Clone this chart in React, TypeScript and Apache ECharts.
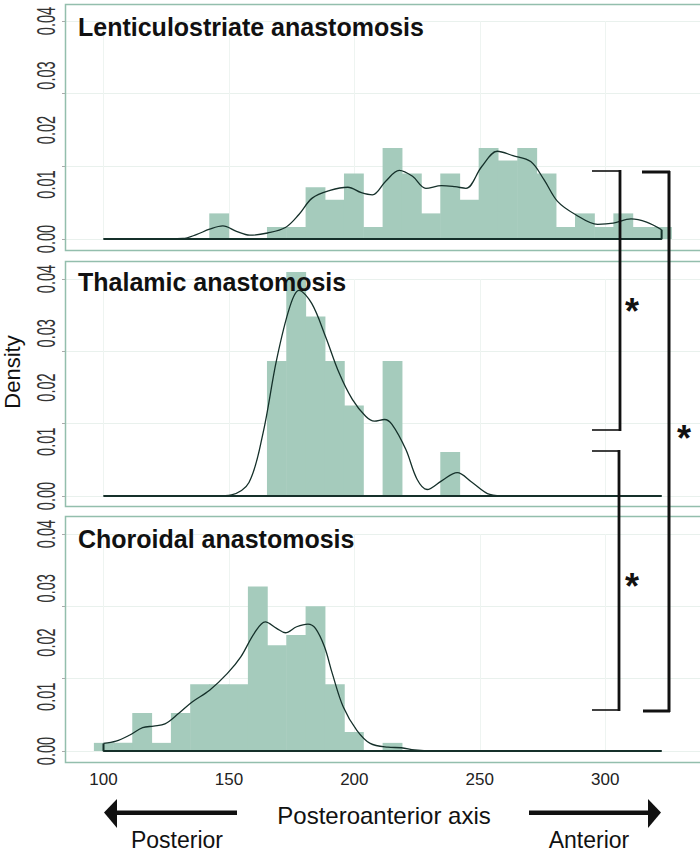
import React, { useEffect, useRef } from "react";
import * as echarts from "echarts";

// Histogram bins (centres) and width, in posteroanterior axis units
const binCenters = [100, 107.7, 115.3, 123.0, 130.7, 138.4, 146.0, 153.7, 161.4, 169.0, 176.7, 184.4, 192.1, 199.7, 207.4, 215.1, 222.8, 230.4, 238.1, 245.8, 253.4, 261.1, 268.8, 276.5, 284.1, 291.8, 299.5, 307.1, 314.8, 322.5];
const binWidth = 7.67;

const lentBars = [0, 0, 0, 0, 0, 0, 0.0047, 0, 0, 0.0022, 0.0022, 0.0095, 0.0072, 0.012, 0.0022, 0.0167, 0.012, 0.0047, 0.012, 0.0072, 0.0167, 0.0144, 0.0167, 0.012, 0.0022, 0.0047, 0.0022, 0.0047, 0.0022, 0.0022];
const thalBars = [0, 0, 0, 0, 0, 0, 0, 0, 0, 0.0249, 0.0413, 0.0331, 0.0249, 0.0167, 0, 0.0249, 0, 0, 0.0081, 0, 0, 0, 0, 0, 0, 0, 0, 0, 0, 0];
const chorBars = [0.0015, 0.0015, 0.007, 0.0015, 0.007, 0.0123, 0.0123, 0.0123, 0.0303, 0.0195, 0.0214, 0.0267, 0.0123, 0.0035, 0, 0.0015, 0, 0, 0, 0, 0, 0, 0, 0, 0, 0, 0, 0, 0, 0];

// Density curves
const lentCurveX = [100, 120, 131.6, 137, 142.3, 147.6, 153, 158.3, 165.4, 172.5, 177.9, 183.2, 190.3, 197.4, 202.8, 207.2, 212.5, 217.9, 223.2, 228.5, 234.8, 240.1, 244.5, 250.8, 257, 263.2, 270.3, 275.6, 281, 288.1, 297, 303.2, 310.3, 316.5, 322.5];
const lentCurveY = [0, 0, 0.0001, 0.0008, 0.0018, 0.0024, 0.0014, 0.0007, 0.0011, 0.0021, 0.0045, 0.0075, 0.0089, 0.0095, 0.0085, 0.0081, 0.0106, 0.0126, 0.0115, 0.0093, 0.0098, 0.0096, 0.0093, 0.0133, 0.0161, 0.0153, 0.0142, 0.0109, 0.0069, 0.0045, 0.0027, 0.0029, 0.0037, 0.0031, 0.0017];
const thalCurveX = [100, 130, 145, 151, 158, 163.6, 169, 174.3, 177.9, 183, 188.5, 193.9, 199.2, 204.5, 208, 212, 215, 220.5, 225, 229, 234.8, 241, 247, 254, 261, 280, 322.5];
const thalCurveY = [0, 0, 0, 0.0002, 0.0025, 0.0116, 0.0251, 0.0349, 0.0379, 0.0355, 0.0294, 0.0227, 0.0178, 0.0147, 0.0138, 0.0141, 0.0132, 0.0086, 0.0031, 0.0012, 0.0028, 0.0043, 0.0025, 0.0003, 0, 0, 0];
const chorCurveX = [100, 105, 110.3, 115.6, 120, 124.5, 129.9, 135.2, 142.3, 149.4, 154.8, 160.1, 164.5, 169, 172.5, 177, 181.5, 184.5, 188.1, 191.2, 195.6, 201, 206.3, 213.4, 218.8, 224, 231, 260, 322.5];
const chorCurveY = [0.0014, 0.0018, 0.0029, 0.0043, 0.0046, 0.005, 0.0069, 0.009, 0.0112, 0.0143, 0.0174, 0.0217, 0.0238, 0.0226, 0.0218, 0.0229, 0.0234, 0.0226, 0.0192, 0.0143, 0.0081, 0.0038, 0.0014, 0.0007, 0.0006, 0.0002, 0, 0, 0];

const curveStart = [0, 0, 0.0014];
const curveEnd = [0.0017, 0, 0];
const densityStartX = 100;
const densityEndX = 322.5;

const panelTitles = ["Lenticulostriate anastomosis", "Thalamic anastomosis", "Choroidal anastomosis"];
const yTicks = [0, 0.01, 0.02, 0.03, 0.04];
const xTicks = [100, 150, 200, 250, 300];
const xMin = 84.65;
const xMax = 337.8;

const FONT = '"Liberation Sans", Arial, Helvetica, sans-serif';
const BAR = "#a5cbbc";
const LINE = "#15302a";
const BORDER = "#93bead";

export default function App() {
  const ref = useRef<HTMLDivElement>(null);
  useEffect(() => {
    document.body.style.margin = "0";
    const chart = echarts.init(ref.current!, null, { renderer: "svg" });
    const gridTops = [21, 279, 534];
    const gridHeights = [218, 217, 217];
    const panelBoxes = [
      [4, 250],
      [261, 506],
      [516, 762],
    ];
    const barsList = [lentBars, thalBars, chorBars];
    const curvesX = [lentCurveX, thalCurveX, chorCurveX];
    const curvesY = [lentCurveY, thalCurveY, chorCurveY];

    const grids: any[] = [];
    const xAxes: any[] = [];
    const yAxes: any[] = [];
    const series: any[] = [];

    for (let g = 0; g < 3; g++) {
      grids.push({ left: 65, width: 635, top: gridTops[g], height: gridHeights[g] });
      xAxes.push({
        type: "value",
        gridIndex: g,
        min: xMin,
        max: xMax,
        axisLine: { show: false },
        axisTick: { show: false },
        splitLine: { show: false },
        axisLabel: {
          show: g === 2,
          customValues: xTicks,
          margin: 20,
          fontSize: 17,
          fontFamily: FONT,
          color: "#222",
        },
      });
      yAxes.push({
        type: "value",
        gridIndex: g,
        position: "left",
        min: 0,
        max: 0.04,
        interval: 0.04 / 3,
        axisLine: { show: false },
        axisTick: { show: true, length: 3, lineStyle: { color: "#aaa" } },
        axisLabel: { show: false },
        splitLine: { show: true, lineStyle: { color: "#e9f1ed", width: 1 } },
      });

      const bars = barsList[g];
      const barData = binCenters
        .map((c, i) => [c - binWidth / 2, c + binWidth / 2, bars[i]])
        .filter((d) => d[2] > 0);
      series.push({
        type: "custom",
        xAxisIndex: g,
        yAxisIndex: g,
        encode: { x: [0, 1], y: 2 },
        data: barData,
        z: 2,
        renderItem: (params: any, api: any) => {
          const p0 = api.coord([api.value(0), 0]);
          const p1 = api.coord([api.value(1), api.value(2)]);
          return {
            type: "rect",
            shape: {
              x: p0[0],
              y: p1[1],
              width: p1[0] - p0[0] + 0.6,
              height: p0[1] - p1[1],
            },
            style: { fill: BAR },
          };
        },
      });

      series.push({
        type: "line",
        xAxisIndex: g,
        yAxisIndex: g,
        data: curvesX[g].map((x, i) => [x, curvesY[g][i]]),
        smooth: 0.35,
        showSymbol: false,
        symbol: "none",
        lineStyle: { color: LINE, width: 1.3 },
        z: 4,
        markLine: {
          silent: true,
          symbol: "none",
          label: { show: false },
          lineStyle: { color: "#eef4f1", width: 1, type: "solid" },
          data: xTicks.map((t) => ({ xAxis: t })),
          z: 1,
        },
      });

      series.push({
        type: "line",
        xAxisIndex: g,
        yAxisIndex: g,
        data: [
          [densityStartX, curveStart[g]],
          [densityStartX, 0],
          [densityEndX, 0],
          [densityEndX, curveEnd[g]],
        ],
        showSymbol: false,
        symbol: "none",
        lineStyle: { color: LINE, width: 2 },
        z: 5,
      });
    }

    const graphic: any[] = [];
    panelBoxes.forEach(([t, b]) => {
      graphic.push({
        type: "rect",
        shape: { x: 65.5, y: t + 0.5, width: 640, height: b - t },
        style: { fill: "none", stroke: BORDER, lineWidth: 1.5 },
        z: 1,
        silent: true,
      });
    });
    const titleYs = [27, 281.5, 538.5];
    panelTitles.forEach((txt, i) => {
      graphic.push({
        type: "text",
        x: 78,
        y: titleYs[i],
        z: 100,
        style: {
          text: txt,
          fontSize: 25,
          fontWeight: "bold",
          fontFamily: FONT,
          fill: "#111",
          verticalAlign: "middle",
        },
      });
    });
    graphic.push({
      type: "text",
      x: 12,
      y: 372,
      rotation: Math.PI / 2,
      style: {
        text: "Density",
        fontSize: 22,
        fontFamily: FONT,
        fill: "#111",
        align: "center",
        verticalAlign: "middle",
      },
    });

    const ln = (x1: number, y1: number, x2: number, y2: number, w: number) => ({
      type: "line",
      shape: { x1, y1, x2, y2 },
      style: { stroke: "#111", lineWidth: w },
      z: 100,
    });
    // bracket A
    graphic.push(ln(592, 171, 620, 171, 1.6));
    graphic.push(ln(620, 170, 620, 431, 2.8));
    graphic.push(ln(592, 430, 620, 430, 1.6));
    // bracket C
    graphic.push(ln(592, 451, 619, 451, 1.6));
    graphic.push(ln(619, 450, 619, 711, 2.8));
    graphic.push(ln(592, 710, 619, 710, 1.6));
    // bracket B
    graphic.push(ln(642, 172, 670, 172, 3));
    graphic.push(ln(669, 171, 669, 712, 3));
    graphic.push(ln(643, 711, 670, 711, 3));

    const star = (x: number, y: number) => ({
      type: "text",
      x,
      y: y + 8,
      z: 100,
      style: {
        text: "*",
        fontSize: 36,
        fontWeight: "bold",
        fontFamily: FONT,
        fill: "#111",
        align: "center",
        verticalAlign: "middle",
      },
    });
    graphic.push(star(632, 303));
    graphic.push(star(632, 578));
    graphic.push(star(684, 430));

    // arrows
    graphic.push({ type: "rect", shape: { x: 114, y: 810.5, width: 123, height: 4.5 }, style: { fill: "#111" }, z: 100 });
    graphic.push({ type: "polygon", shape: { points: [[104, 812.5], [117, 799], [117, 828]] }, style: { fill: "#111" }, z: 100 });
    graphic.push({ type: "rect", shape: { x: 529, y: 810.5, width: 122, height: 4.5 }, style: { fill: "#111" }, z: 100 });
    graphic.push({ type: "polygon", shape: { points: [[661, 812.5], [648, 799], [648, 828]] }, style: { fill: "#111" }, z: 100 });

    const label = (txt: string, x: number, y: number, size: number) => ({
      type: "text",
      x,
      y,
      z: 100,
      style: {
        text: txt,
        fontSize: size,
        fontFamily: FONT,
        fill: "#111",
        align: "center",
        verticalAlign: "middle",
      },
    });
    graphic.push(label("Posteroanterior axis", 384, 815, 24));
    graphic.push(label("Posterior", 177, 840, 23));
    graphic.push(label("Anterior", 589, 840, 23));

    chart.setOption({
      animation: false,
      backgroundColor: "#fff",
      grid: grids,
      xAxis: xAxes,
      yAxis: yAxes,
      series,
      graphic,
    });

    // y tick labels, placed through each panel's y axis scale
    for (let g = 0; g < 3; g++) {
      yTicks.forEach((t) => {
        const py = chart.convertToPixel({ yAxisIndex: g }, t) as number;
        graphic.push({
          type: "text",
          x: 46,
          y: py,
          rotation: Math.PI / 2,
          scaleX: 0.56,
          z: 100,
          style: {
            text: t.toFixed(2),
            fontSize: 26,
            fontFamily: FONT,
            fill: "#333",
            align: "center",
            verticalAlign: "middle",
          },
        });
      });
    }
    chart.setOption({ graphic });
    return () => chart.dispose();
  }, []);
  return <div ref={ref} style={{ width: 700, height: 853 }} />;
}
